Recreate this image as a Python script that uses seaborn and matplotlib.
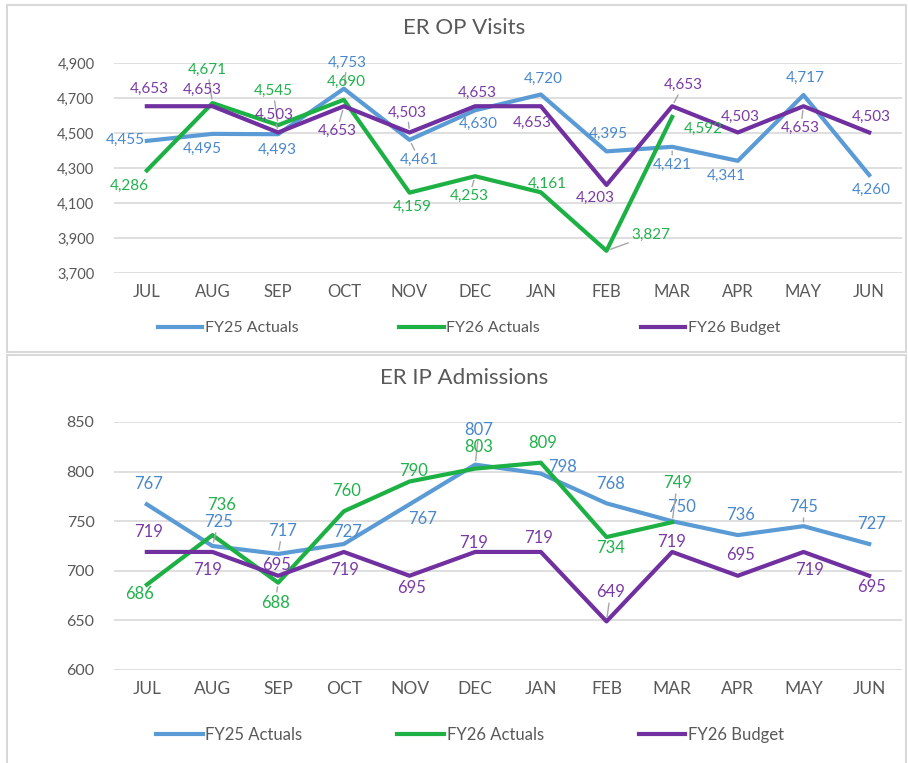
import matplotlib
matplotlib.use("Agg")
import matplotlib.pyplot as plt
import seaborn as sns
import pandas as pd
import numpy as np
from matplotlib.patches import Rectangle
from matplotlib.lines import Line2D
from matplotlib.ticker import FuncFormatter

# ---------------- data ----------------
months = ["JUL", "AUG", "SEP", "OCT", "NOV", "DEC", "JAN", "FEB", "MAR", "APR", "MAY", "JUN"]
series_names = ["FY25 Actuals", "FY26 Actuals", "FY26 Budget"]

op_fy25 = [4455, 4495, 4493, 4753, 4461, 4630, 4720, 4395, 4421, 4341, 4717, 4260]
op_fy26 = [4286, 4671, 4545, 4690, 4159, 4253, 4161, 3827, 4592, np.nan, np.nan, np.nan]
op_budget = [4653, 4653, 4503, 4653, 4503, 4653, 4653, 4203, 4653, 4503, 4653, 4503]
op_yticks = [3700, 3900, 4100, 4300, 4500, 4700, 4900]

ip_fy25 = [767, 725, 717, 727, 767, 807, 798, 768, 750, 736, 745, 727]
ip_fy26 = [686, 736, 688, 760, 790, 803, 809, 734, 749, np.nan, np.nan, np.nan]
ip_budget = [719, 719, 695, 719, 695, 719, 719, 649, 719, 695, 719, 695]
ip_yticks = [600, 650, 700, 750, 800, 850]

# ---------------- styles ----------------
colors = ["#5B9BD5", "#1DB044", "#7030A0"]
label_colors = ["#4A88CC", "#22B14C", "#7A3AA6"]
text_gray = "#595959"
grid_gray = "#D9D9D9"
leader_gray = "#A6A6A6"
FONT = "Lato"

# label offsets (pixels, dx right, dy up) per series
op_offsets = [
    [(-22, 1), (-10, -15), (-1, -16), (3, 26), (10, -20), (3, -14), (2, 16), (2, 17), (0, -18), (-12, -15), (2, 17), (2, -15)],
    [(-18, -15), (-5, 33), (-5, 34), (2, 18), (3, -14), (-6, -20), (6, 8), (44, 16), (31, -12)],
    [(2, 17), (-10, 16), (-4, 18), (-7, -25), (-2, 20), (2, 13), (-9, -17), (-11, -13), (11, 21), (2, 16), (-3, -22), (2, 16)],
]
ip_offsets = [
    [(2, 20), (6, 24), (4, 23), (4, 12), (13, -15), (4, 35), (22, 7), (4, 19), (9, 14), (3, 20), (0, 19), (2, 20)],
    [(-7, -9), (9, 30), (-3, -20), (3, 20), (4, 11), (4, 22), (2, 20), (4, -11), (5, 39)],
    [(2, 20), (-5, -18), (-2, 11), (1, -18), (2, -12), (-2, 9), (-2, 14), (4, 29), (-1, 10), (3, 21), (6, -18), (2, -11)],
]
# labels drawn with a short leader line: (series index, month index)
op_leaders = {(1, 1), (1, 2), (2, 2), (0, 3), (2, 3), (0, 4), (2, 4), (1, 5), (1, 7), (2, 8), (0, 8), (2, 10)}
ip_leaders = {(0, 1), (0, 2), (1, 2), (0, 5), (1, 8), (2, 7), (0, 10)}

W, H = 908, 763
fig = plt.figure(figsize=(W / 100, H / 100), dpi=100)
fig.patch.set_facecolor("white")

# panel borders
for (y0, y1) in [(5, 352), (355, 766)]:
    fig.add_artist(Rectangle((7 / W, 1 - y1 / H), (906 - 7) / W, (y1 - y0) / H,
                             transform=fig.transFigure, fill=False,
                             edgecolor="#D9D9D9", linewidth=1.5))


def make_panel(rect, values_list, offsets, leaders, yticks, fmt, title, title_y,
               legend_y, legend_x, colsp, tick_fs, xtick_fs, label_fs, legend_fs, comma):
    ax = fig.add_axes(rect)
    rows = []
    for name, vals in zip(series_names, values_list):
        for m, v in zip(months, vals):
            rows.append({"month": m, "value": v, "series": name})
    df = pd.DataFrame(rows)
    sns.lineplot(data=df, x="month", y="value", hue="series", hue_order=series_names,
                 palette=colors, linewidth=3.0, ax=ax, legend=False, sort=False)
    ax.set_xlim(-0.5, len(months) - 0.5)
    ax.set_ylim(yticks[0], yticks[-1])
    ax.set_yticks(yticks)
    ax.yaxis.set_major_formatter(FuncFormatter(fmt))
    ax.grid(axis="y", color=grid_gray, linewidth=1.2)
    ax.grid(axis="x", visible=False)
    ax.set_axisbelow(True)
    for s in ax.spines.values():
        s.set_visible(False)
    ax.tick_params(axis="both", length=0, colors=text_gray)
    ax.tick_params(axis="y", labelsize=tick_fs, pad=14)
    ax.tick_params(axis="x", labelsize=xtick_fs, pad=8)
    for lab in ax.get_xticklabels() + ax.get_yticklabels():
        lab.set_fontfamily(FONT)
    ax.set_xlabel("")
    ax.set_ylabel("")
    ax.set_facecolor("white")

    for si, (vals, offs, col) in enumerate(zip(values_list, offsets, label_colors)):
        for i, v in enumerate(vals):
            if np.isnan(v):
                continue
            dx, dy = offs[i]
            txt = f"{int(v):,}" if comma else f"{int(v)}"
            kw = {}
            if (si, i) in leaders:
                kw["arrowprops"] = dict(arrowstyle="-", color=leader_gray, lw=1.0,
                                        shrinkA=0, shrinkB=3)
            ax.annotate(txt, (i, v), xytext=(dx, dy), textcoords="offset pixels",
                        ha="center", va="center", color=col, fontsize=label_fs,
                        fontfamily=FONT, zorder=5, **kw)

    fig.text(464 / W, 1 - title_y / H, title, ha="center", va="center",
             fontsize=16, color=text_gray, fontfamily=FONT)

    handles = [Line2D([0], [0], color=c, linewidth=3.0) for c in colors]
    fig.legend(handles, series_names, loc="center", bbox_to_anchor=(legend_x / W, 1 - legend_y / H),
               ncol=3, frameon=False, handlelength=2.8, handletextpad=0.15,
               columnspacing=colsp, prop={"family": FONT, "size": legend_fs},
               labelcolor=text_gray)
    return ax


top_rect = [114 / W, 1 - 273 / H, 788 / W, 210 / H]
bot_rect = [114 / W, 1 - 670 / H, 788 / W, 248 / H]

make_panel(top_rect, [op_fy25, op_fy26, op_budget], op_offsets, op_leaders, op_yticks,
           lambda v, p: f"{int(v):,}", "ER OP Visits", 28, 328, 469, 6.3,
           10.5, 12, 11, 11.5, True)
make_panel(bot_rect, [ip_fy25, ip_fy26, ip_budget], ip_offsets, ip_leaders, ip_yticks,
           lambda v, p: f"{int(v)}", "ER IP Admissions", 378, 735, 470, 5.7,
           11.5, 12.5, 12, 12, False)

fig.savefig("out.png", dpi=100, facecolor="white")
